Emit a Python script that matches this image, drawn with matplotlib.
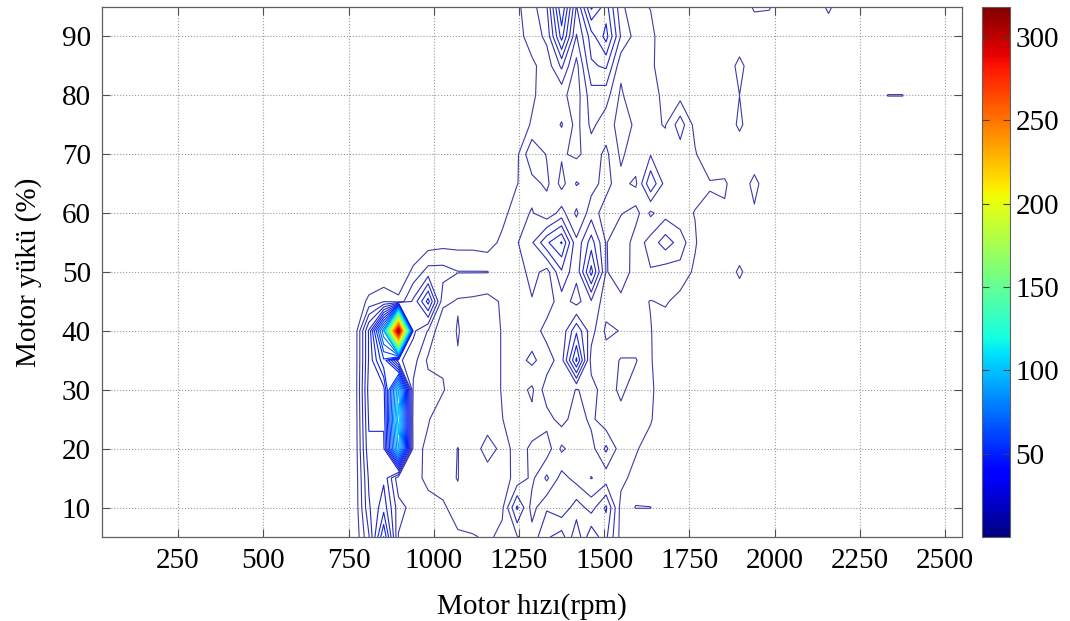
import numpy as np
import matplotlib
matplotlib.use("Agg")
import matplotlib.pyplot as plt
from matplotlib import cm, colors

plt.rcParams['font.family'] = ['Liberation Serif', 'DejaVu Serif']

# load bins (%), bottom to top
load_bins = [5, 10, 15, 20, 25, 30, 35, 40, 45, 50, 55, 60, 65, 70, 75, 80, 85, 90, 95]

# engine speed bin centres (rpm): first, last, number of bins
speed_first, speed_last, n_speed = 27, 2549, 59
first_col = 17  # speed bin index of the first column in "counts"

# counts per (load row, speed column), columns = speed bins 17..45
counts = [
    [0, 18, 50, 12, 8, 7, 8, 7, 7, 5, 8, 12, 15, 24, 28, 14, 30, 20, 4, 0, 0, 0, 0, 0, 0, 0, 0, 0, 0],
    [0, 24, 35, 15, 10, 8, 7, 4, 0, 0, 5, 26, 10, 18, 14, 22, 16, 26, 4, 6.4, 6.4, 0, 0, 0, 0, 0, 0, 0, 0],
    [0, 26, 30, 8, 8, 5, 4, 6.5, 0, 0, 4, 8, 14, 5, 15, 10, 6, 9, 8, 4, 0, 0, 0, 0, 0, 0, 0, 0, 0],
    [0, 30, 30, 95, 10, 4, 0, 6.5, 0, 11.5, 3, 9, 14, 16, 5, 10, 10, 20, 9, 7, 3, 0, 0, 0, 0, 0, 0, 0, 0],
    [0, 32, 32, 105, 9, 7, 0, 0, 0, 0, 6, 12, 8, 10, 15, 9, 14, 8, 10, 8, 7, 0, 0, 0, 0, 0, 0, 0, 0],
    [0, 34, 35, 95, 11, 9, 7, 0, 0, 0, 7, 9, 5, 16, 18, 12, 15, 9, 14, 9, 8, 0, 0, 0, 0, 0, 0, 0, 0],
    [0, 32, 55, 20, 15, 5, 5, 5.5, 0, 0, 7, 10, 14, 9, 16, 45, 10, 9, 13, 13, 7, 0, 0, 0, 0, 0, 0, 0, 0],
    [0, 32, 80, 318, 20, 12, 0, 7, 0, 0, 7, 12, 9, 15, 14, 30, 15, 5, 6.5, 6.5, 6.5, 3, 0, 0, 0, 0, 0, 0, 0],
    [0, 8, 12, 8, 20, 40, 8, 5.5, 5, 4, 7, 10, 12, 9, 16, 10, 18, 9, 11, 8, 6, 7, 4, 0, 0, 0, 0, 0, 0],
    [0, 0, 0, 0, 8, 15, 15, 12.7, 12.7, 12.7, 9, 9, 15, 10, 24, 14, 40, 12, 16, 10, 12, 9, 10, 5, 0, 0, 8, 0, 0],
    [0, 0, 0, 0, 0, 3, 4, 4, 4, 3, 8, 12, 18, 30, 38, 14, 28, 12, 18, 9, 15, 22, 16, 7, 0, 0, 0, 0, 0],
    [0, 0, 0, 0, 0, 0, 0, 0, 0, 0, 4, 10, 13, 8, 15, 5, 16, 9, 12, 15, 5, 10, 8, 6, 4, 5, 0, 5, 0],
    [0, 0, 0, 0, 0, 0, 0, 0, 0, 0, 0, 6, 10, 14, 4, 13, 10, 15, 8, 5, 24, 10, 9, 8, 7, 7.5, 0, 9, 0],
    [0, 0, 0, 0, 0, 0, 0, 0, 0, 0, 0, 5, 18, 12, 7, 5, 9, 14, 5, 10, 12, 8, 9, 7, 0, 0, 0, 0, 0],
    [0, 0, 0, 0, 0, 0, 0, 0, 0, 0, 0, 2, 7, 8, 13, 4, 14, 9, 4, 7, 7, 6, 16, 4, 0, 0, 8, 0, 0],
    [0, 0, 0, 0, 0, 0, 0, 0, 0, 0, 0, 0, 5, 10, 8, 3, 16, 15, 5, 12, 8, 5, 4, 0, 0, 0, 6.2, 0, 0],
    [0, 0, 0, 0, 0, 0, 0, 0, 0, 0, 0, 2, 5, 9, 20, 4, 24, 26, 8, 12, 7, 4, 0, 0, 0, 0, 9, 0, 0],
    [0, 0, 0, 0, 0, 0, 0, 0, 0, 0, 0, 4, 9, 14, 40, 12, 28, 40, 18, 10, 8, 2, 0, 0, 0, 0, 0, 0, 0],
    [0, 0, 0, 0, 0, 0, 0, 0, 0, 0, 0, 5, 10, 18, 50, 18, 45, 34, 14, 8, 6, 0, 0, 0, 0, 0, 0, 7.5, 7],
]

# isolated cells outside the block: (speed bin, load row, count)
stray = [(49, 18, 8), (53, 15, 6.4), (54, 15, 6.4)]

cbar_ticks = [50, 100, 150, 200, 250, 300]
x_ticks = [250, 500, 750, 1000, 1250, 1500, 1750, 2000, 2250, 2500]
y_ticks = [10, 20, 30, 40, 50, 60, 70, 80, 90]

speed = np.linspace(speed_first, speed_last, n_speed)
z = np.zeros((len(load_bins), n_speed))
block = np.array(counts, dtype=float)
z[:, first_col:first_col + block.shape[1]] = block
for col, row, v in stray:
    z[row, col] = v

zmax = z.max()
levels = np.linspace(0, zmax, 52)[1:-1]
norm = colors.Normalize(vmin=0, vmax=zmax)

# jet for the lines, low end a bit muted like the thin navy lines of the original
jet = plt.get_cmap('jet')
stops = [0.0, 0.08, 0.16] + list(np.linspace(0.2, 1.0, 17))
rgb = [(0.27, 0.27, 0.62), (0.15, 0.15, 0.75), jet(0.16)[:3]] + [jet(s)[:3] for s in stops[3:]]
line_cmap = colors.LinearSegmentedColormap.from_list('jet_lines', list(zip(stops, rgb)))

fig = plt.figure(figsize=(10.7, 6.21), dpi=100)
ax = fig.add_axes([0.0953, 0.1353, 0.8037, 0.8534])
cax = fig.add_axes([0.9178, 0.1353, 0.0262, 0.8534])

X, Y = np.meshgrid(speed, load_bins)
ax.contour(X, Y, z, levels=levels, cmap=line_cmap, norm=norm, linewidths=0.8)

ax.set_xlim(speed_first, speed_last)
ax.set_ylim(5, 95)
ax.set_xticks(x_ticks)
ax.set_yticks(y_ticks)
ax.grid(True, linestyle=':', color='#9a9a9a', linewidth=0.8)
ax.tick_params(direction='in', top=True, right=True, length=6, width=0.8,
               labelsize=21, pad=8, color='#505050')
for s in ax.spines.values():
    s.set_color('#606060')
    s.set_linewidth(0.9)
ax.set_xlabel('Motor hızı(rpm)', fontsize=21, labelpad=14)
ax.set_ylabel('Motor yükü (%)', fontsize=21, labelpad=14)

sm = cm.ScalarMappable(norm=norm, cmap='jet')
cb = fig.colorbar(sm, cax=cax, ticks=cbar_ticks)
cb.ax.tick_params(direction='in', length=5, width=0.8, labelsize=21, pad=4,
                  color='#404040', left=True)
cb.outline.set_edgecolor('#606060')
cb.outline.set_linewidth(0.8)

fig.savefig('out.png', dpi=100, facecolor='white')
